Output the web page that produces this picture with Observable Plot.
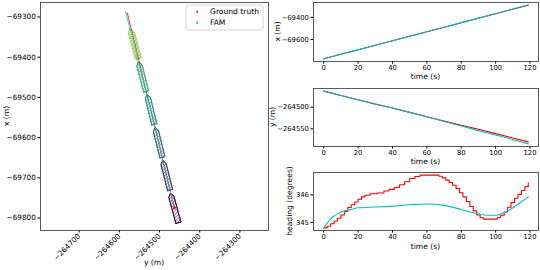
<!DOCTYPE html>
<html><head><meta charset="utf-8">
<script src="https://cdn.jsdelivr.net/npm/d3@7"></script>
<script src="https://cdn.jsdelivr.net/npm/@observablehq/plot@0.6"></script>
<style>
body{margin:0;background:#fff;}
#wrap{position:relative;width:540px;height:270px;overflow:hidden;font-family:"DejaVu Sans";}
#wrap > svg{position:absolute;overflow:visible;}
</style></head><body><div id="wrap"></div>
<script>
// ---- data ----
const time = [0,10,20,30,40,50,60,70,80,90,100,110,119];
const xGT  = [-69775,-69734,-69693,-69653,-69612,-69571,-69530,-69490,-69449,-69408,-69367,-69327,-69290];
const xFAM = [-69775,-69734,-69694,-69653,-69612,-69571,-69530,-69489,-69448,-69407,-69366,-69325,-69287];
const yGT  = [-264463,-264473,-264483,-264493,-264502,-264512,-264522,-264532,-264542,-264551,-264561,-264571,-264580];
const yFAM = [-264463,-264473,-264483,-264492.5,-264502,-264512,-264522,-264533,-264543.5,-264554,-264564,-264574.5,-264584.5];

const headTimeGT = [0,2,4,6,8,10,12,14,16,18,20,22,24,27,31,35,38,41,44,47,50,53,56,67,69,71,73,75,77,79,81,83,85,87,89,91,93,101,103,105,107,109,111,113,115,117,119];
const headGT = [344.80,344.86,344.95,345.05,345.15,345.27,345.40,345.54,345.64,345.74,345.84,345.93,345.99,346.04,346.07,346.14,346.20,346.27,346.37,346.48,346.60,346.67,346.72,346.68,346.62,346.54,346.45,346.35,346.23,346.08,345.93,345.76,345.58,345.42,345.27,345.17,345.12,345.18,345.26,345.38,345.55,345.72,345.88,346.02,346.16,346.30,346.44];
const headTimeFAM = [0,2,4,6,8,10,13,16,20,30,40,50,60,70,80,90,95,100,105,110,115,119];
const headFAM = [344.80,344.97,345.12,345.23,345.31,345.37,345.43,345.47,345.53,345.56,345.59,345.64,345.67,345.62,345.47,345.31,345.26,345.26,345.35,345.53,345.75,345.93];

const boxTimes = [0,20,40,60,80,100];
const shipLength = 76, shipWidth = 13, bowLength = 9;

const leftXTicks = [-264700,-264600,-264500,-264400,-264300];
const leftYTicks = [-69300,-69400,-69500,-69600,-69700,-69800];
const timeTicks = [0,20,40,60,80,100,120];
const xTicksR = [-69400,-69600];
const yTicksR = [-264500,-264550];
const headTicks = [345,346];

const RED = "#ff0000", CYAN = "#00bfbf";
const fmt = d => (d < 0 ? "\u2212" : "") + Math.abs(d);
const wrap = document.getElementById("wrap");
const FONT = {fontFamily: "DejaVu Sans", fontSize: "6.8px", color: "#000", background: "transparent", overflow: "visible"};

// hatch patterns
const boxColors = boxTimes.map((t, i) => d3.interpolateViridis(i / 6));
const defsSvg = d3.select(wrap).append("svg").attr("width", 0).attr("height", 0).style("left", "0px").style("top", "0px");
const defs = defsSvg.append("defs");
boxColors.forEach((c, i) => {
  const p = defs.append("pattern").attr("id", "hatch" + i).attr("patternUnits", "userSpaceOnUse").attr("width", 3.5).attr("height", 3.5);
  p.append("path").attr("d", "M0,3.5L3.5,0M-1,1L1,-1M2.5,4.5L4.5,2.5").attr("stroke", c).attr("stroke-width", 0.5).attr("stroke-opacity", 0.8).attr("fill", "none");
});

const gt = time.map((t, i) => ({t, x: xGT[i], y: yGT[i]}));
const fam = time.map((t, i) => ({t, x: xFAM[i], y: yFAM[i]}));
const hGT = headTimeGT.map((t, i) => ({t, h: headGT[i]}));
const hFAM = headTimeFAM.map((t, i) => ({t, h: headFAM[i]}));

function headingAt(times, vals, t) {
  let v = vals[0];
  for (let i = 0; i < times.length; i++) if (times[i] <= t) v = vals[i];
  return v;
}
function ship(cx, cy, hdeg) {
  const h = hdeg * Math.PI / 180, c = Math.cos(h), s = Math.sin(h);
  const L = shipLength / 2, W = shipWidth / 2;
  const loc = [[-L,-W],[L-bowLength,-W],[L,0],[L-bowLength,W],[-L,W],[-L,-W]];
  return loc.map(([a, b]) => ({x: cx + a * c - b * s, y: cy + a * s + b * c}));
}

function place(svg, left, top) {
  svg.style.left = left + "px"; svg.style.top = top + "px"; svg.style.overflow = "visible";
  wrap.appendChild(svg);
  return d3.select(svg);
}
function label(sel, x, y, txt, rot, anchor) {
  const t = sel.append("text").attr("x", x).attr("y", y).attr("text-anchor", anchor || "middle")
    .attr("dominant-baseline", "middle").attr("font-size", "7.6px").attr("font-family", "DejaVu Sans").attr("fill", "#000").text(txt);
  if (rot) t.attr("transform", `rotate(${rot},${x},${y})`);
}

// ---- left panel ----
const boxMarks = [];
boxTimes.forEach((bt, i) => {
  const k = time.indexOf(bt);
  const pg = ship(xGT[k], yGT[k], headingAt(headTimeGT, headGT, bt));
  const pf = ship(xFAM[k], yFAM[k], headingAt(headTimeFAM, headFAM, bt));
  boxMarks.push(Plot.line(pg, {x: "y", y: "x", stroke: boxColors[i], fill: `url(#hatch${i})`, strokeWidth: 0.9}));
  boxMarks.push(Plot.line(pf, {x: "y", y: "x", stroke: boxColors[i], fill: `url(#hatch${i})`, strokeWidth: 0.9}));
});

const left = Plot.plot({
  width: 270, height: 270, marginLeft: 40, marginRight: 2, marginTop: 2, marginBottom: 40,
  style: {...FONT, fontSize: "7.3px"},
  x: {domain: [-264796, -264229]},
  y: {domain: [-69831, -69264]},
  marks: [
    ...boxMarks,
    Plot.line(gt, {x: "y", y: "x", stroke: RED, strokeOpacity: 0.75, strokeWidth: 1.2, strokeDasharray: "0.9,1.1"}),
    Plot.line(fam, {x: "y", y: "x", stroke: CYAN, strokeOpacity: 0.75, strokeWidth: 1.2, strokeDasharray: "0.9,1.1"}),
    Plot.dot(gt.slice(0, 1), {x: "y", y: "x", r: 1.4, fill: RED}),
    Plot.axisX({ticks: leftXTicks, tickFormat: fmt, tickSize: 2.6, tickPadding: 2, tickRotate: -45, label: null}),
    Plot.axisY({ticks: leftYTicks, tickFormat: fmt, tickSize: 2.6, tickPadding: 2, label: null}),
    Plot.frame({stroke: "#333", strokeWidth: 0.8})
  ]
});
const ls = place(left, 0, 0);
label(ls, 7, 116, "x (m)", -90);
label(ls, 154, 263, "y (m)");
const lg = ls.append("g");
lg.append("rect").attr("x", 186).attr("y", 5).attr("width", 77).attr("height", 25).attr("rx", 2)
  .attr("fill", "#fff").attr("fill-opacity", 0.8).attr("stroke", "#ccc").attr("stroke-width", 0.8);
lg.append("rect").attr("x", 196.5).attr("y", 10.5).attr("width", 1.3).attr("height", 2.4).attr("fill", RED);
lg.append("rect").attr("x", 196.5).attr("y", 21.5).attr("width", 1.3).attr("height", 2.4).attr("fill", CYAN);
label(lg, 210, 12, "Ground truth", 0, "start");
label(lg, 210, 23, "FAM", 0, "start");

// ---- right panels ----
const tDomain = [-5.95, 124.95];
function rightPanel(top, height, mt, mb, yDomain, yTicks, marks, ylab, ylabX) {
  const svg = Plot.plot({
    width: 270, height, marginLeft: 43, marginRight: 2, marginTop: mt, marginBottom: mb,
    style: FONT,
    x: {domain: tDomain},
    y: {domain: yDomain},
    marks: [
      ...marks,
      Plot.axisX({ticks: timeTicks, tickSize: 2.6, tickPadding: 1.5, label: null}),
      Plot.axisY({ticks: yTicks, tickFormat: fmt, tickSize: 2.6, tickPadding: 2, label: null}),
      Plot.frame({stroke: "#333", strokeWidth: 0.8})
    ]
  });
  const s = place(svg, 270, top);
  label(s, 155.5, 77, "time (s)");
  label(s, ylabX, mt + (height - mt - mb) / 2, ylab, -90);
}
rightPanel(0, 85, 2, 24, [-69799, -69266], xTicksR, [
  Plot.line(gt, {x: "t", y: "x", stroke: RED, strokeWidth: 1.1}),
  Plot.line(fam, {x: "t", y: "x", stroke: CYAN, strokeWidth: 1.1})
], "x (m)", 8);
rightPanel(85, 85, 3, 24, [-264590.6, -264457], yTicksR, [
  Plot.line(gt, {x: "t", y: "y", stroke: RED, strokeWidth: 1.1}),
  Plot.line(fam, {x: "t", y: "y", stroke: CYAN, strokeWidth: 1.1})
], "y (m)", 3);
rightPanel(170, 100, 2, 40, [344.704, 346.816], headTicks, [
  Plot.line(hGT, {x: "t", y: "h", stroke: RED, strokeWidth: 1.1, curve: "step-after"}),
  Plot.line(hFAM, {x: "t", y: "h", stroke: CYAN, strokeWidth: 1.1, curve: "monotone-x"})
], "heading (degrees)", 20);
</script></body></html>
